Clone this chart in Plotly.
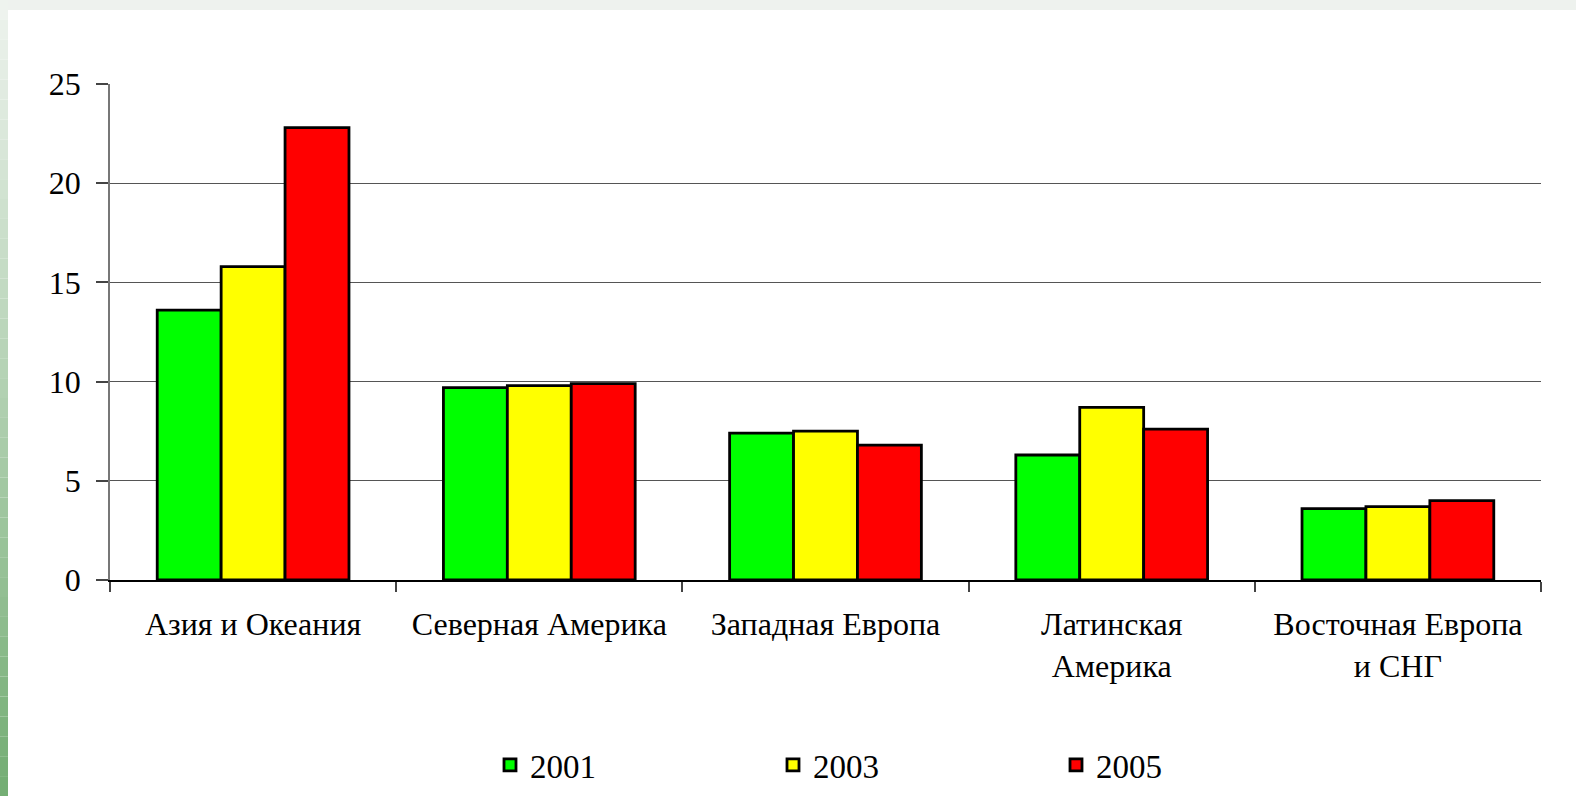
import plotly.graph_objects as go

categories = ["Азия и Океания", "Северная Америка", "Западная Европа", "Латинская<br>Америка", "Восточная Европа<br>и СНГ"]
years = ["2001", "2003", "2005"]
v2001 = [13.6, 9.7, 7.4, 6.3, 3.6]
v2003 = [15.8, 9.8, 7.5, 8.7, 3.7]
v2005 = [22.8, 9.9, 6.8, 7.6, 4.0]
colors = ["#00ff00", "#ffff00", "#ff0000"]
yticks = [0, 5, 10, 15, 20, 25]

W, H = 1576, 796
ML, MR, MT, MB = 110, 35, 84, 216
PW, PH = W - ML - MR, H - MT - MB

def px(x):
    return (x - ML) / PW

def py(y):
    return (H - MB - y) / PH

fig = go.Figure()
for name, vals, col in zip(years, [v2001, v2003, v2005], colors):
    fig.add_trace(go.Bar(x=categories, y=vals, name=name,
                         marker=dict(color=col, line=dict(color="black", width=2.8))))

shapes = []
shapes.append(dict(type="rect", xref="paper", yref="paper", x0=px(0), x1=px(W), y0=py(0), y1=py(10),
                   fillcolor="#eef2ee", line_width=0, layer="below"))
n = 40
for i in range(n):
    t = i / (n - 1)
    r = int(0xee + (0x74 - 0xee) * t)
    g = int(0xf3 + (0xae - 0xf3) * t)
    b = int(0xee + (0x74 - 0xee) * t)
    shapes.append(dict(type="rect", xref="paper", yref="paper", x0=px(0), x1=px(8),
                       y0=py(H * i / n), y1=py(H * (i + 1) / n),
                       fillcolor=f"rgb({r},{g},{b})", line_width=0, layer="below"))

fig.update_layout(
    width=W, height=H,
    margin=dict(l=ML, r=MR, t=MT, b=MB, pad=0, autoexpand=False),
    paper_bgcolor="white", plot_bgcolor="white",
    barmode="group", bargap=0.33, bargroupgap=0,
    font=dict(family="Liberation Serif", color="black", size=32),
    shapes=shapes,
    legend=dict(orientation="h", xref="container", yref="container",
                x=490 / W, xanchor="left", y=(H - 765) / H, yanchor="middle",
                entrywidth=238, entrywidthmode="pixels", font=dict(family="Liberation Serif", size=33),
                itemwidth=30, bgcolor="rgba(0,0,0,0)"),
    xaxis=dict(showline=True, linecolor="black", linewidth=1.5, ticks="outside", tickson="boundaries",
               ticklen=10, tickcolor="#444", tickwidth=1.5, showgrid=False, automargin=False,
               tickfont=dict(family="Liberation Serif", size=32), ticklabelstandoff=15),
    yaxis=dict(range=[0, 25], tickvals=yticks, showline=True, linecolor="#777", linewidth=1.5,
               ticks="outside", ticklen=12, tickcolor="#444", tickwidth=1.5, automargin=False,
               showgrid=True, gridcolor="#555", gridwidth=1.2, zeroline=False,
               tickfont=dict(family="Liberation Serif", size=32), ticklabelstandoff=9),
)
fig.write_html("out.html", config={"displayModeBar": False},
               post_script="document.body.style.margin='0';document.body.style.padding='0';"
                           "document.body.style.overflow='hidden';document.documentElement.style.overflow='hidden';")
